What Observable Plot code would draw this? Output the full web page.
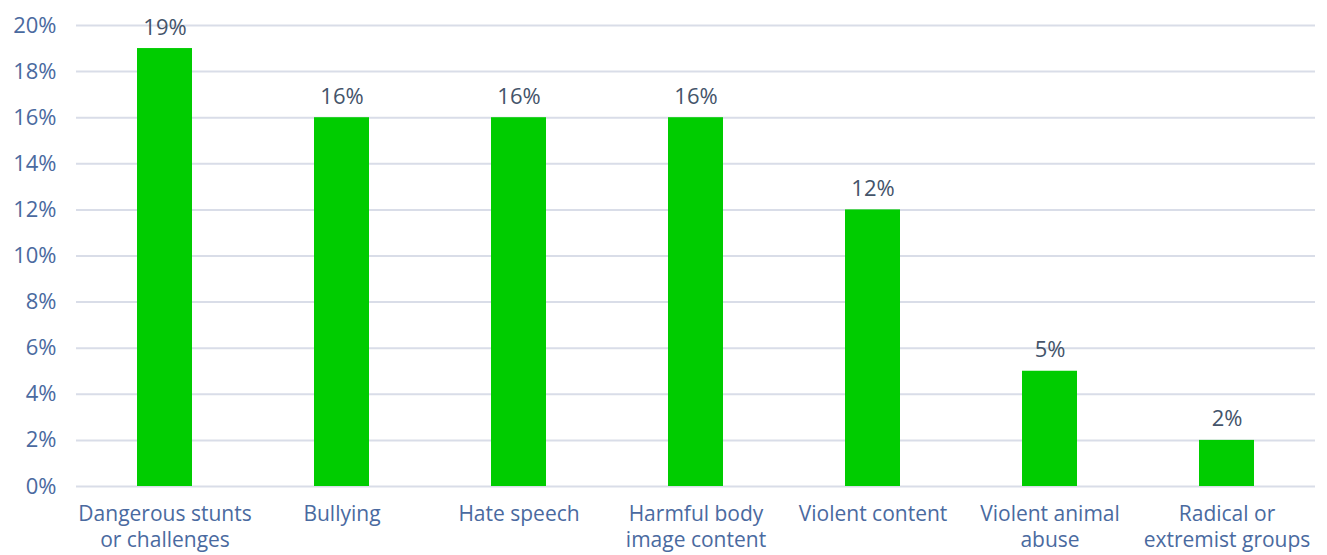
<!DOCTYPE html>
<html>
<head>
<meta charset="utf-8">
<script src="https://cdn.jsdelivr.net/npm/d3@7"></script>
<script src="https://cdn.jsdelivr.net/npm/@observablehq/plot@0.6"></script>
<style>
  html, body { margin: 0; padding: 0; background: #fff; }
  #chart svg { display: block; }
</style>
</head>
<body>
<div id="chart"></div>
<script>
const categories = [
  "Dangerous stunts\nor challenges",
  "Bullying",
  "Hate speech",
  "Harmful body\nimage content",
  "Violent content",
  "Violent animal\nabuse",
  "Radical or\nextremist groups"
];
const values = [19, 16, 16, 16, 12, 5, 2];
const yTicks = [0, 2, 4, 6, 8, 10, 12, 14, 16, 18, 20];

const data = categories.map((c, i) => ({category: c, value: values[i]}));

const font = "'Open Sans', sans-serif";
const chart = Plot.plot({
  width: 1327,
  height: 555,
  marginTop: 25,
  marginBottom: 69,
  marginLeft: 76,
  marginRight: 12,
  style: {fontFamily: font, fontSize: "21px", background: "#fff"},
  x: {domain: categories, paddingInner: 0.69, paddingOuter: 0.345, label: null},
  y: {domain: [0, 20], label: null},
  marks: [
    Plot.gridY(yTicks, {stroke: "#d9dde8", strokeOpacity: 1, strokeWidth: 2}),
    Plot.barY(data, {x: "category", y: "value", fill: "#00cc00"}),
    Plot.text(data, {x: "category", y: "value", text: d => d.value + "%", lineAnchor: "bottom", dy: -14, fill: "#44546a", fontSize: 22}),
    Plot.axisY(yTicks, {tickSize: 0, tickPadding: 20, tickFormat: d => d + "%", fill: "#4a6aa0", fontSize: 22, label: null}),
    Plot.axisX({tickSize: 0, tickPadding: 16, fill: "#4a6aa0", fontSize: 21, lineHeight: 1.25, label: null})
  ]
});
document.getElementById("chart").append(chart);
</script>
</body>
</html>
